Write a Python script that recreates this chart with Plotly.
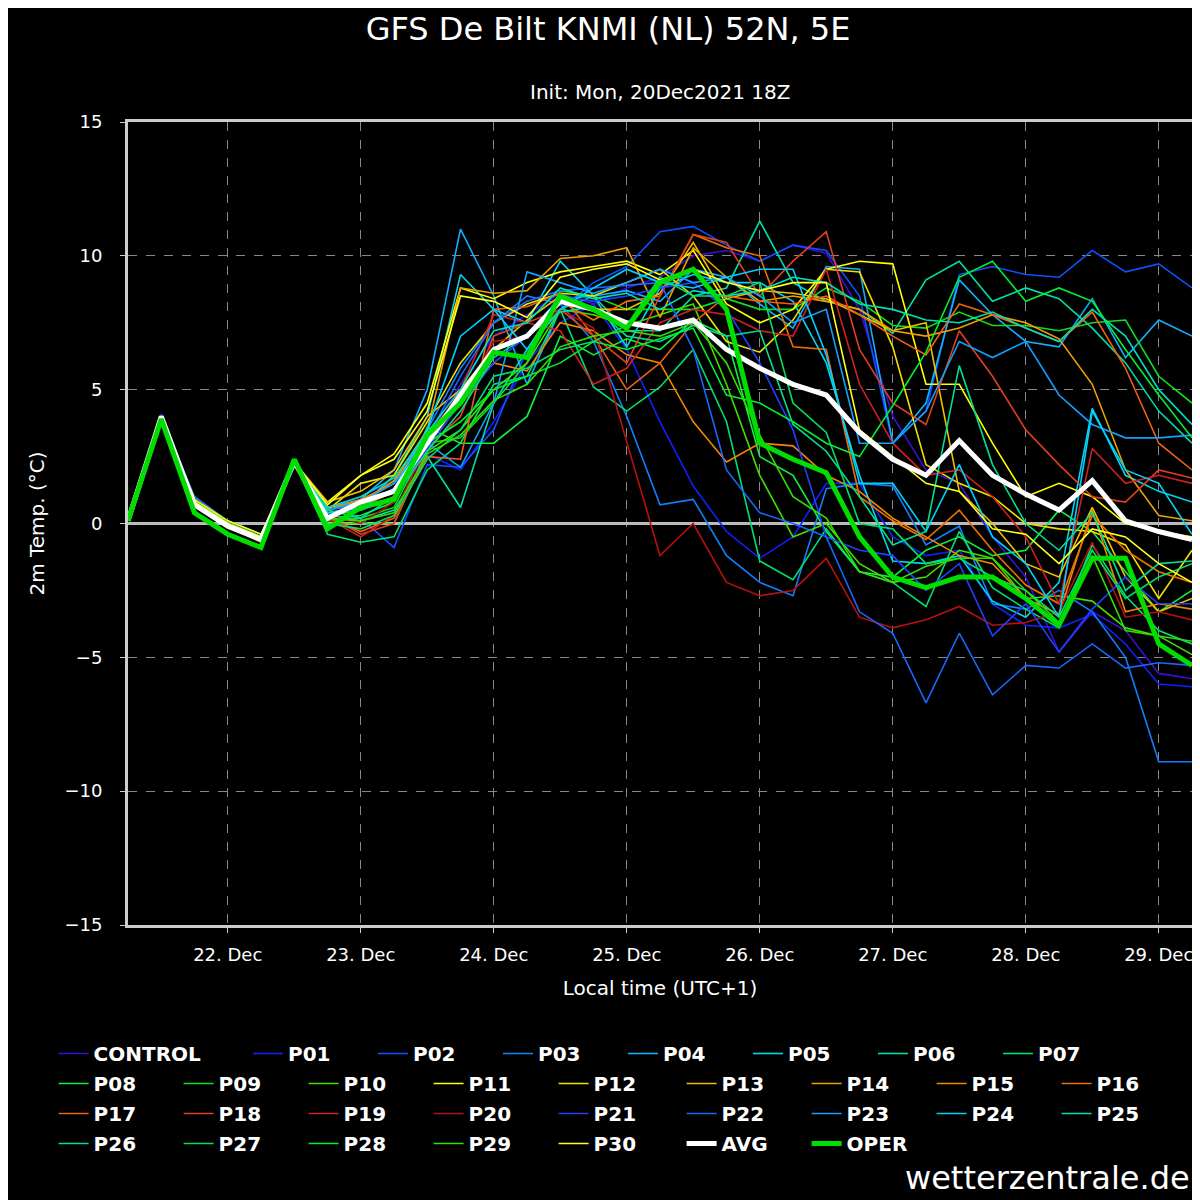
import plotly.graph_objects as go
import pandas as pd

times = pd.date_range("2021-12-21 06:00", periods=33, freq="6h")

members = {
"CONTROL":[0.1,4.1,0.9,0.1,-0.5,2.2,0.6,1.0,1.6,3.2,5.2,7.0,7.8,8.6,8.2,8.8,9.2,10.0,10.2,9.8,10.4,10.1,8.0,4.0,2.0,1.5,-0.5,-2.0,-4.8,-3.3,-4.0,-5.6,-5.8],
"P01":[0.1,4.0,0.8,0.0,-0.6,2.3,0.4,0.5,0.9,2.6,2.0,3.8,6.0,7.5,8.2,6.5,3.8,1.4,-0.3,-1.3,-0.5,1.5,1.5,-0.5,-1.2,-1.0,-3.0,-3.8,-3.9,-3.4,-4.5,-6.0,-6.1],
"P02":[0.1,4.0,0.9,0.1,-0.5,2.2,0.3,0.2,-0.9,2.2,2.1,3.5,6.5,8.0,9.0,9.6,10.9,11.1,10.4,9.8,10.4,10.2,8.5,3.0,4.2,9.3,9.6,9.3,9.2,10.2,9.4,9.7,8.8],
"P03":[0.1,4.0,1.0,0.1,-0.4,2.2,0.5,0.8,1.5,3.5,5.8,7.5,8.5,8.2,6.8,4.0,0.7,0.9,-1.2,-2.2,-2.7,1.3,1.5,1.4,-0.8,-0.1,-3.0,-3.2,-2.5,-3.3,-5.0,-8.9,-8.9],
"P04":[0.1,4.0,0.9,0.0,-0.5,2.3,0.6,0.9,2.0,5.0,11.0,8.5,5.2,8.0,8.5,8.7,8.3,9.5,9.2,8.2,7.3,9.6,9.5,3.0,4.5,9.1,7.8,6.8,6.6,8.4,6.2,7.6,7.0],
"P05":[0.1,3.9,0.8,0.0,-0.5,2.2,0.4,0.6,1.8,4.0,9.3,8.0,7.5,9.8,8.5,6.6,8.8,9.3,9.0,9.0,8.3,6.0,1.8,-1.4,-1.5,-1.2,-2.9,-3.5,-2.2,4.3,1.8,1.2,0.8],
"P06":[0.1,4.0,0.9,0.0,-0.5,2.3,0.3,0.1,0.5,2.5,0.6,4.5,6.5,8.4,8.5,7.2,7.2,8.5,8.8,11.3,9.0,8.3,8.0,7.1,9.1,9.8,8.3,8.8,8.4,7.3,6.0,4.2,3.0],
"P07":[0.1,4.0,0.8,-0.1,-0.6,2.3,-0.4,-0.7,-0.5,2.0,3.0,5.2,5.5,8.0,5.1,4.2,5.1,6.5,3.8,-1.4,-2.1,-0.2,-1.8,-2.2,-3.1,-0.3,-2.4,-3.2,-3.9,-0.8,-2.7,-4.0,-4.5],
"P08":[0.1,4.0,0.8,0.0,-0.5,2.3,0.2,0.3,0.8,3.6,3.0,3.0,4.0,7.0,6.3,6.9,6.5,7.6,7.0,2.5,1.8,-0.3,-1.8,-2.0,-1.0,-0.5,-1.2,-1.0,0.5,-0.3,-1.8,-3.3,-2.5],
"P09":[0.1,4.0,0.8,0.0,-0.5,2.3,0.1,0.2,0.6,3.0,3.2,4.5,6.0,8.7,8.5,8.0,8.0,8.0,8.4,8.0,8.0,8.8,8.3,7.4,7.3,7.9,7.4,7.4,7.2,7.5,7.6,5.5,4.5],
"P10":[0.1,4.0,0.7,-0.1,-0.6,2.4,0.0,0.0,0.0,2.7,3.5,5.0,6.0,8.0,7.8,7.4,7.8,8.2,5.2,1.8,-0.5,0.0,-1.5,-2.2,-2.0,-1.0,-1.3,-2.8,-2.7,-2.9,-3.9,-4.2,-4.9],
"P11":[0.1,4.0,0.9,0.1,-0.4,2.2,0.8,1.8,2.6,4.5,8.8,8.4,9.0,9.4,9.6,9.8,9.3,10.2,8.2,7.5,8.0,9.5,9.8,9.7,5.2,5.2,3.0,1.0,1.5,1.0,0.0,-0.3,-0.5],
"P12":[0.1,4.0,0.9,0.0,-0.5,2.3,0.5,1.5,1.8,3.8,6.0,7.5,8.2,8.6,8.5,9.0,9.5,8.5,6.8,6.4,7.6,9.5,9.4,6.6,2.2,1.5,1.0,0.0,-0.2,-0.3,-0.8,-2.8,-1.0],
"P13":[0.1,4.0,0.8,0.0,-0.6,2.3,0.8,1.2,2.0,4.0,5.0,6.5,7.6,8.5,8.0,8.0,8.6,10.5,8.4,8.7,8.6,8.4,7.8,7.2,7.5,1.2,0.0,-1.5,-2.0,0.6,-2.0,-3.3,-2.8],
"P14":[0.1,4.0,0.8,-0.1,-0.7,2.3,0.6,0.8,1.6,3.5,8.8,8.6,8.7,9.9,10.0,10.3,7.7,10.3,9.2,8.3,8.5,8.3,8.0,7.2,7.0,7.3,7.8,7.5,6.9,5.2,2.0,0.3,0.1],
"P15":[0.1,4.0,0.8,0.0,-0.5,2.3,0.5,0.9,1.5,3.3,4.8,6.0,5.7,7.5,7.2,6.3,6.0,3.8,2.3,3.0,2.9,1.8,1.2,0.2,-0.5,-1.2,-1.5,-2.8,-3.4,0.5,-3.3,-3.0,-3.2],
"P16":[0.1,4.0,0.8,0.0,-0.5,2.3,0.4,0.6,1.2,3.0,4.5,6.5,7.0,8.3,7.6,8.3,8.5,10.8,10.3,10.0,6.6,6.5,1.0,0.1,-0.6,0.5,-1.0,-2.3,-3.0,0.3,-1.0,-1.8,-2.2],
"P17":[0.1,4.0,0.8,0.0,-0.5,2.3,0.2,-0.3,0.2,2.5,2.4,8.0,8.1,8.6,7.0,5.0,6.0,7.5,8.5,8.3,8.2,8.5,7.8,7.0,6.3,8.2,7.8,7.3,6.8,7.9,5.8,3.0,2.0],
"P18":[0.1,4.0,0.8,0.0,-0.5,2.3,0.3,-0.4,0.0,2.8,4.0,7.0,7.5,8.0,7.0,6.0,8.5,10.8,10.5,8.5,9.8,10.9,6.5,4.5,3.7,7.2,5.5,3.5,2.2,1.0,0.8,2.0,1.7],
"P19":[0.1,4.0,0.8,0.0,-0.5,2.3,0.2,-0.5,0.3,3.0,5.0,7.8,7.5,7.2,5.2,5.8,7.5,8.0,7.8,7.2,7.0,9.5,5.2,3.0,1.8,2.0,1.0,-0.5,-3.0,2.8,1.5,1.8,1.5],
"P20":[0.1,4.0,0.8,0.0,-0.5,2.3,0.3,0.0,0.8,3.2,4.5,6.8,7.0,8.0,7.3,3.0,-1.2,0.0,-2.2,-2.7,-2.5,-1.3,-3.5,-3.9,-3.6,-3.1,-3.8,-3.7,-3.3,-0.7,-3.5,-3.3,-3.6],
"P21":[0.1,4.0,0.8,0.0,-0.5,2.3,0.4,0.5,1.0,2.8,4.5,6.0,7.0,8.5,8.3,8.5,8.8,9.0,8.0,6.0,3.5,-0.5,-1.0,-1.2,-2.5,-1.5,-4.2,-3.0,-4.8,-3.2,-2.0,-3.0,-3.0],
"P22":[0.1,4.0,0.8,0.0,-0.5,2.3,0.5,0.7,1.3,3.2,5.5,7.5,8.3,8.7,8.8,8.9,9.0,6.5,2.0,0.4,0.0,-0.5,-3.3,-4.1,-6.7,-4.1,-6.4,-5.3,-5.4,-4.5,-5.4,-5.2,-5.3],
"P23":[0.1,4.0,0.8,0.0,-0.5,2.3,0.5,0.8,1.5,3.0,2.1,4.5,9.4,9.0,8.6,9.0,9.5,9.0,9.2,8.5,7.5,8.0,3.0,3.0,4.2,6.8,6.2,6.8,4.8,3.7,3.2,3.2,3.3],
"P24":[0.1,4.0,0.8,0.0,-0.5,2.3,0.4,0.6,1.3,3.5,7.0,8.0,6.5,8.0,8.8,9.5,9.0,8.8,9.2,9.5,9.5,6.3,1.5,1.5,-0.3,2.2,-0.5,-1.5,-3.5,4.2,2.0,1.5,-0.4],
"P25":[0.1,4.0,0.8,0.0,-0.5,2.3,0.6,1.0,1.7,3.4,5.0,7.2,7.5,8.8,8.4,8.6,8.0,8.7,8.5,8.7,9.2,9.0,8.2,8.0,7.6,7.5,7.9,7.3,6.8,8.0,7.0,5.0,3.7],
"P26":[0.1,4.0,0.8,0.0,-0.5,2.3,0.5,0.2,1.0,2.7,4.2,6.2,7.0,7.9,8.1,7.0,6.8,7.4,7.0,7.2,3.7,2.7,1.0,-0.8,-0.3,5.9,2.2,0.0,-1.0,0.4,-2.5,-1.5,-1.4],
"P27":[0.1,4.0,0.8,0.0,-0.5,2.3,0.0,-0.2,0.3,2.4,3.5,5.5,5.8,6.5,6.8,7.4,9.2,8.5,8.5,9.0,4.5,3.4,0.0,-0.2,-1.5,-1.3,-2.0,-2.5,-3.5,-1.0,-2.8,-2.0,-1.5],
"P28":[0.1,4.0,0.8,0.0,-0.5,2.3,0.3,0.5,1.0,3.0,3.8,5.0,5.5,6.0,6.8,6.5,6.9,7.3,4.8,4.5,3.8,3.0,2.5,4.4,6.4,9.2,9.8,8.3,8.8,8.3,6.5,4.8,3.2],
"P29":[0.1,4.0,0.8,0.0,-0.5,2.3,0.2,0.1,0.4,2.6,3.3,4.6,5.2,6.6,7.0,7.2,7.0,7.5,6.0,3.3,1.0,0.2,-1.8,-2.2,-1.6,-1.3,-1.3,-2.5,-3.7,-1.2,-4.0,-4.2,-4.4],
"P30":[0.1,4.0,0.8,0.0,-0.5,2.3,0.7,1.8,2.4,4.2,8.5,8.3,7.7,9.2,9.5,9.7,9.1,9.5,9.0,8.7,9.0,9.0,3.5,2.5,1.5,1.2,-0.2,-0.4,-1.5,-0.2,-0.5,-1.5,-2.2],
}
avg = [0.1,4.0,0.7,-0.1,-0.6,2.3,0.2,0.8,1.2,3.0,4.8,6.5,7.0,8.3,8.0,7.5,7.3,7.6,6.5,5.8,5.2,4.8,3.4,2.4,1.8,3.1,1.8,1.1,0.5,1.6,0.1,-0.3,-0.6]
oper = [0.1,3.9,0.4,-0.4,-0.9,2.4,-0.2,0.6,0.9,3.3,4.5,6.4,6.2,8.5,8.0,7.3,9.0,9.5,8.0,3.0,2.4,1.9,-0.5,-2.0,-2.4,-2.0,-2.0,-2.8,-3.8,-1.3,-1.3,-4.5,-5.3]

colors = ["#3a10d8","#1020ff","#1050ff","#1080ff","#10b0ff","#00d8f0","#00e0a8","#00e070",
          "#10f040","#10e020","#40e000","#ffff00","#f0e000","#f0c000","#f0a000","#f08800",
          "#f07000","#f06010","#e04020","#d02020","#b81010","#2040ff","#1868ff","#10a0ff",
          "#00d0ff","#00e0b8","#00e090","#00e060","#00f030","#30e000","#ffff20"]

# legend layout: row 1 = CONTROL | P01..P07 ; rows 2-4 = 9 entries each, split 5 + 4
names = list(members.keys()) + ["AVG", "OPER"]
slot = {}
slot["CONTROL"] = ("legend", 0.038, 0)
for n in names[1:8]:
    slot[n] = ("legend2", 0.2, 0)
rest = names[8:]
lid = 3
for r in range(3):
    row = rest[r * 9:(r + 1) * 9]
    for j, n in enumerate(row):
        if j < 5:
            slot[n] = ("legend%d" % lid, 0.038, r + 1)
        else:
            slot[n] = ("legend%d" % (lid + 1), 0.038 + 5 * 125.6 / 1200, r + 1)
    lid += 2

fig = go.Figure()
for (name, vals), c in zip(members.items(), colors):
    fig.add_trace(go.Scatter(x=times, y=vals, mode="lines", name=name, legend=slot[name][0],
                             showlegend=True, line=dict(color=c, width=1.6)))
fig.add_trace(go.Scatter(x=times, y=avg, mode="lines", name="AVG", legend=slot["AVG"][0],
                         showlegend=True, line=dict(color="white", width=5)))
fig.add_trace(go.Scatter(x=times, y=oper, mode="lines", name="OPER", legend=slot["OPER"][0],
                         showlegend=True, line=dict(color="#00dd00", width=5)))

leg_common = dict(orientation="h", xref="container", yref="container", xanchor="left", yanchor="top",
                  entrywidth=80, entrywidthmode="pixels",
                  font=dict(size=20, color="white", weight="bold"), bgcolor="rgba(0,0,0,0)",
                  tracegroupgap=0, visible=True)
legends = {}
for n, (lg, x, r) in slot.items():
    if lg not in legends:
        legends[lg] = dict(leg_common, x=x, y=0.145 - r * 0.025)
legends["legend"]["entrywidth"] = 150

fig.update_layout(
    width=1200, height=1200, paper_bgcolor="black", plot_bgcolor="black", showlegend=True,
    font=dict(family="DejaVu Sans", color="white", size=18),
    margin=dict(l=120, r=16, t=114, b=283),
    title=dict(text="GFS De Bilt KNMI (NL) 52N, 5E", x=0.5, y=0.983, xanchor="center", yanchor="middle",
               font=dict(size=32, color="white")),
    annotations=[
        dict(text="Init: Mon, 20Dec2021 18Z", xref="paper", yref="paper", x=0.5, y=1.0,
             yshift=44, showarrow=False, font=dict(size=20), xanchor="center"),
        dict(text="wetterzentrale.de", xref="paper", yref="paper", x=1.0, y=0, yshift=-232,
             xanchor="right", yanchor="top", showarrow=False, font=dict(size=32)),
    ],
    **legends,
)
fig.update_xaxes(range=[pd.Timestamp("2021-12-21 06:00"), pd.Timestamp("2021-12-29 06:00")],
                 tickformat="%d. %b", dtick=86400000, tick0="2021-12-22",
                 showgrid=True, gridcolor="#888", griddash="dash", gridwidth=1,
                 showline=True, linecolor="#ccc", linewidth=3, mirror=True,
                 ticks="outside", tickcolor="#ccc", ticklen=5, zeroline=False, ticklabelstandoff=6,
                 title=dict(text="Local time (UTC+1)", font=dict(size=20), standoff=18), tickfont=dict(size=18))
fig.update_yaxes(range=[-15, 15], dtick=5, showgrid=True, gridcolor="#888", griddash="dash",
                 showline=True, linecolor="#ccc", linewidth=3, mirror=True,
                 zeroline=True, zerolinecolor="#bbb", zerolinewidth=3,
                 ticks="outside", tickcolor="#ccc", ticklen=5, ticklabelstandoff=14,
                 title=dict(text="2m Temp. (°C)", font=dict(size=20)), tickfont=dict(size=18))

fig.write_html("out.html")
